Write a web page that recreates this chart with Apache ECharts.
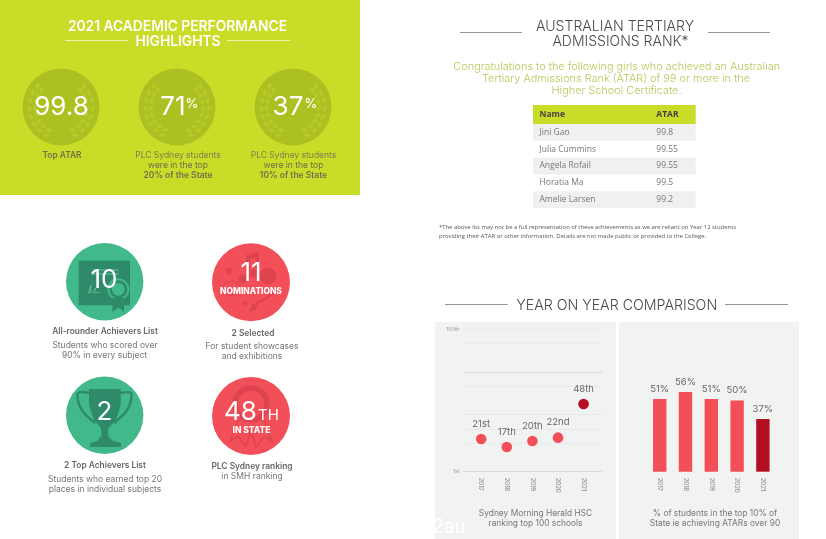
<!DOCTYPE html>
<html><head><meta charset="utf-8">
<style>html,body{margin:0;padding:0;background:#fff}#c{width:826px;height:539px}</style>
<script src="https://cdn.jsdelivr.net/npm/echarts@6/dist/echarts.min.js"></script>
</head><body><div id="c"></div>
<script>
const years = [2017, 2018, 2019, 2020, 2021];
const rankLabels = ['21st', '17th', '20th', '22nd', '48th'];
const rankPlotted = [23, 17.3, 21.6, 23.9, 47.5];
const rankTicks = {0: '1st', 100: '100th'};
const top10Pct = [51, 56, 51, 50, 37];
const studentNames = ['Jini Gao', 'Julia Cummins', 'Angela Rofail', 'Horatia Ma', 'Amelie Larsen'];
const studentAtars = ['99.8', '99.55', '99.55', '99.5', '99.2'];

const SANS = 'Inter, "Noto Sans", sans-serif';
const OPEN = '"Open Sans", sans-serif';
const RED = '#f34f58', DARKRED = '#b50f24', GREEN = '#41b98a', DKGREEN = '#2e8a69', LIME = '#c9dc27', OLIVE = '#adc022', ICONRED = '#de4450';
const els = [];
function rect(x, y, w, h, fill, z) { els.push({type: 'rect', z: z ?? 1, shape: {x, y, width: w, height: h}, style: {fill}, silent: true}); }
function circ(cx, cy, r, fill, z) { els.push({type: 'circle', z: z ?? 1, shape: {cx, cy, r}, style: {fill}, silent: true}); }
function ring(cx, cy, r, stroke, lw, z) { els.push({type: 'circle', z: z ?? 2, shape: {cx, cy, r}, style: {fill: 'none', stroke, lineWidth: lw}, silent: true}); }
function line(x1, y1, x2, y2, stroke, lw, z) { els.push({type: 'line', z: z ?? 2, shape: {x1, y1, x2, y2}, style: {stroke, lineWidth: lw}, silent: true}); }
function poly(points, fill, z) { els.push({type: 'polygon', z: z ?? 2, shape: {points}, style: {fill}, silent: true}); }
function pl(points, stroke, lw, smooth, z) { els.push({type: 'polyline', z: z ?? 2, shape: {points, smooth: smooth || 0}, style: {stroke, lineWidth: lw, fill: 'none'}, silent: true}); }
function text(t, x, y, size, fill, opts) {
  opts = opts || {};
  els.push({type: 'text', z: 5, silent: true, style: {text: t, x, y, fill, textAlign: opts.align || 'center', textVerticalAlign: 'middle', verticalAlign: 'middle',
    font: (opts.weight || 400) + ' ' + size + 'px ' + (opts.family || SANS)}});
}
function star(cx, cy, r, fill) {
  const p = [];
  for (let i = 0; i < 10; i++) { const a = -Math.PI / 2 + i * Math.PI / 5, q = i % 2 ? r * 0.42 : r; p.push([cx + q * Math.cos(a), cy + q * Math.sin(a)]); }
  poly(p, fill);
}
function wreath(cx, cy) {
  [-1, 1].forEach(side => {
    [26, 31.5].forEach(r => {
      for (let d = -42; d <= 72; d += 15) {
        const a = d * Math.PI / 180;
        els.push({type: 'ellipse', z: 2, silent: true, x: cx + side * r * Math.cos(a), y: cy + r * Math.sin(a),
          rotation: -side * (a + 0.5), shape: {cx: 0, cy: 0, rx: 1.8, ry: 3}, style: {fill: '#b7ca28'}});
      }
    });
  });
}

// lime block
rect(0, 0, 360, 195, LIME);
text('2021 ACADEMIC PERFORMANCE', 177.5, 26.5, 13.8, '#fff', {weight: 600});
text('HIGHLIGHTS', 178, 41.5, 13.8, '#fff', {weight: 600});
line(65, 40.5, 128, 40.5, '#eef3b0', 1);
line(227, 40.5, 290, 40.5, '#eef3b0', 1);
[[61, '99.8', 61.5], [177, '71', 173], [293, '37', 288]].forEach(([cx, v, tx]) => {
  circ(cx, 107, 38.5, OLIVE, 2);
  wreath(cx, 107);
  text(v, tx, 107, 26, '#fff', {weight: 400});
});
text('%', 192, 104, 13, '#fff', {weight: 500});
text('%', 311, 104, 13, '#fff', {weight: 500});
text('Top ATAR', 62, 155.5, 8.4, '#6e7150', {weight: 600});
[[178, '20%'], [293.5, '10%']].forEach(([x, p]) => {
  text('PLC Sydney students', x, 155.5, 8.5, '#7d8150');
  text('were in the top', x, 165.5, 8.5, '#6e7150');
  text(p + ' of the State', x, 175.5, 8.5, '#6e7150', {weight: 600});
});

// green / red badges
const C1 = [104.7, 281.7], C2 = [251, 282.3], C3 = [104.7, 415.3], C4 = [251, 416];
circ(C1[0], C1[1], 38.7, GREEN);
rect(78.7, 260.7, 51.3, 44.5, DKGREEN, 2);
line(93, 270, 118, 270, '#7fd1b1', 0.8, 3); line(93, 274, 118, 274, '#7fd1b1', 0.8, 3);
pl([[88, 294], [91, 285], [90, 293], [96, 288], [94, 293], [100, 292]], '#6cc4a2', 0.7, 0, 3);
circ(118.3, 289.3, 11, GREEN, 3); circ(118.3, 289.3, 9, DKGREEN, 3); circ(118.3, 289.3, 6.4, GREEN, 3);
poly([[112.5, 298], [124, 298], [124, 303], [124, 312], [118.3, 307.5], [112.5, 312]], DKGREEN, 3);
text('10', 104, 280, 26, '#fff', {weight: 400});
text('All-rounder Achievers List', 105, 331.7, 8.4, '#666', {weight: 600});
text('Students who scored over', 105, 345.3, 8.5, '#777');
text('90% in every subject', 104.5, 355.3, 8.5, '#777');

circ(C2[0], C2[1], 39, RED);
poly([[246, 255], [246, 278], [250, 278], [250, 259], [256, 258], [256, 272], [259, 272], [259, 252]], ICONRED);
circ(243, 279, 4.5, ICONRED); circ(254, 273, 4, ICONRED);
star(229, 271, 5, ICONRED); star(245, 303, 4, ICONRED);
circ(268, 276, 8.5, ICONRED);
pl([[223, 285], [232, 281], [240, 285], [234, 292], [226, 296], [240, 293], [248, 290]], ICONRED, 1, 0.4);
pl([[254, 305], [268, 297], [276, 290]], ICONRED, 2.5);
poly([[249, 312], [252, 304], [258, 304], [256, 310]], ICONRED);
text('11', 251, 273, 26, '#fff', {weight: 400});
text('NOMINATIONS', 251, 291.5, 8.4, '#fff', {weight: 800});
text('2 Selected', 253, 333, 8.4, '#666', {weight: 600});
text('For student showcases', 252, 346.7, 8.5, '#777');
text('and exhibitions', 252, 356.7, 8.5, '#777');

circ(C3[0], C3[1], 38.7, GREEN);
poly([[89, 389], [120.7, 389], [120.7, 405], [116, 420], [108.5, 428], [108, 436], [113, 441], [121, 443], [121, 447], [90, 447], [90, 443], [97, 441], [101.5, 436], [101, 428], [94, 420], [89, 405]], DKGREEN);
pl([[90, 393], [78, 393], [79, 404], [84, 413], [95, 423]], DKGREEN, 2.4, 0.3);
pl([[120, 393], [131, 393], [130, 404], [125, 413], [114, 423]], DKGREEN, 2.4, 0.3);
text('2', 104.5, 412, 26, '#fff', {weight: 400});
text('2 Top Achievers List', 105, 465.5, 8.4, '#666', {weight: 600});
text('Students who earned top 20', 105, 479, 8.5, '#777');
text('places in individual subjects', 105, 489, 8.5, '#777');

circ(C4[0], C4[1], 39, RED);
ring(251, 404, 16, ICONRED, 5.5);
pl([[238, 420], [230, 441], [238, 436], [246, 447], [251, 430]], ICONRED, 1.6);
pl([[264, 420], [272, 441], [264, 436], [256, 447], [251, 430]], ICONRED, 1.6);
text('48', 240.5, 412.5, 26, '#fff', {weight: 400});
text('TH', 268.5, 415, 15, '#fff', {weight: 400});
text('IN STATE', 251.5, 430.5, 8.5, '#fff', {weight: 800});
text('PLC Sydney ranking', 252, 466, 8.4, '#666', {weight: 600});
text('in SMH ranking', 252, 476, 8.5, '#777');

// ATAR title and table
text('AUSTRALIAN TERTIARY', 615, 26.5, 14.1, '#4a4a4a', {weight: 300});
text('ADMISSIONS RANK*', 620.5, 41.5, 14, '#4a4a4a', {weight: 300});
line(460, 32.5, 522, 32.5, '#777', 0.8); line(708, 32.5, 770, 32.5, '#777', 0.8);
text('Congratulations to the following girls who achieved an Australian', 616.7, 67, 10.9, '#b9c85a', {weight: 300});
text('Tertiary Admissions Rank (ATAR) of 99 or more in the', 616, 79, 10.9, '#b9c85a', {weight: 300});
text('Higher School Certificate.', 616.5, 91, 10.9, '#b9c85a', {weight: 300});
rect(533, 105, 162.7, 19, LIME);
text('Name', 539.5, 115, 8.5, '#444', {align: 'left', family: OPEN, weight: 700});
text('ATAR', 656.3, 115, 8.5, '#444', {align: 'left', family: OPEN, weight: 700});
const rowH = 16.8;
studentNames.forEach((n, i) => {
  const y = 124 + i * rowH;
  if (i % 2 === 0) rect(533, y, 162.7, rowH, '#f0f0f0');
  text(n, 539.5, y + rowH / 2, 8.5, '#777', {align: 'left', family: OPEN});
  text(studentAtars[i], 656.3, y + rowH / 2, 8.5, '#777', {align: 'left', family: OPEN});
});
text('*The above list may not be a full representation of these achievements as we are reliant on Year 12 students', 439, 227, 5.9, '#555', {align: 'left', family: OPEN});
text('providing their ATAR or other information. Details are not made public or provided to the College.', 439, 236.5, 5.9, '#555', {align: 'left', family: OPEN});

// comparison
text('YEAR ON YEAR COMPARISON', 616.7, 305.5, 14.2, '#4a4a4a', {weight: 300});
line(445, 304.5, 507.6, 304.5, '#777', 0.8); line(725, 304.5, 788, 304.5, '#777', 0.8);
rect(434.7, 322, 181.3, 217, '#f1f3f2', -5);
rect(619, 322, 180, 217, '#f1f3f2', -5);
text('Sydney Morning Herald HSC', 535.5, 513, 8.4, '#777');
text('ranking top 100 schools', 535.5, 523, 8.4, '#777');
text('% of students in the top 10% of', 715, 513, 8.4, '#777');
text('State ie achieving ATARs over 90', 715, 523, 8.4, '#777');
text('2au', 449, 528, 20, '#ffffff', {family: 'Roboto, sans-serif'});

const none = 'rgba(0,0,0,0)';
const splitColors = ['#d9dcdb', none, '#e9ebea', '#e9ebea', '#e6e8e7', none, '#e9ebea', '#d9dcdb', none, '#ebedec', '#ebedec'];
const chart = echarts.init(document.getElementById('c'), null, {renderer: 'canvas'});
chart.setOption({
  animation: false,
  backgroundColor: '#fff',
  graphic: {elements: els},
  grid: [
    {left: 463.3, right: 826 - 602, top: 329.3, bottom: 539 - 471.7, containLabel: false},
    {left: 646.8, right: 826 - 775.8, top: 329.3, bottom: 539 - 471.7, containLabel: false}
  ],
  xAxis: [
    {type: 'value', gridIndex: 0, min: 2016.3, max: 2021.72, splitLine: {show: false}, axisLine: {show: false}, axisTick: {show: false},
      axisLabel: {customValues: years, rotate: -90, fontSize: 6, color: '#888', margin: 6, fontFamily: SANS, formatter: v => String(v)}},
    {type: 'category', gridIndex: 1, data: years, axisLine: {show: false}, axisTick: {show: false},
      axisLabel: {rotate: -90, fontSize: 6, color: '#888', margin: 6, fontFamily: SANS}}
  ],
  yAxis: [
    {type: 'value', gridIndex: 0, min: 0, max: 100, interval: 10, axisLine: {show: false}, axisTick: {show: false},
      splitLine: {show: true, lineStyle: {color: splitColors, width: 1}},
      axisLabel: {fontSize: 5, color: '#999', margin: 4, fontFamily: SANS, formatter: v => rankTicks[v] || ''}},
    {type: 'value', gridIndex: 1, min: 0, max: 100, show: false}
  ],
  series: [
    {type: 'scatter', xAxisIndex: 0, yAxisIndex: 0, symbolSize: 10.6, z: 3,
      data: years.map((y, i) => [y, rankPlotted[i]]),
      itemStyle: {opacity: 1, color: p => p.dataIndex === years.length - 1 ? DARKRED : RED},
      label: {show: true, position: 'top', distance: 5, fontSize: 9.5, color: '#666', fontFamily: SANS, formatter: p => rankLabels[p.dataIndex]}},
    {type: 'bar', xAxisIndex: 1, yAxisIndex: 1, barWidth: 13.4, z: 3,
      data: top10Pct,
      itemStyle: {color: p => p.dataIndex === top10Pct.length - 1 ? DARKRED : RED},
      label: {show: true, position: 'top', distance: 5, fontSize: 9.5, color: '#666', fontFamily: SANS, formatter: p => p.value + '%'}}
  ]
});
</script></body></html>
